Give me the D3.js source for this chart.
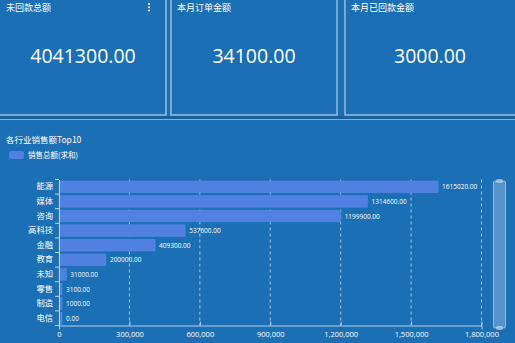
<!DOCTYPE html>
<html><head><meta charset="utf-8">
<script src="https://cdn.jsdelivr.net/npm/d3@7/dist/d3.min.js"></script>
<style>
html,body{margin:0;padding:0;background:#1a6fb5;overflow:hidden;}
svg{display:block;}
</style></head>
<body>
<svg id="c" width="515" height="343"></svg>
<script>
const cardTitles = ["未回款总额", "本月订单金额", "本月已回款金额"];
const cardValues = [4041300, 34100, 3000];
const categories = ["能源","媒体","咨询","高科技","金融","教育","未知","零售","制造","电信"];
const values = [1615020, 1314600, 1199900, 537600, 409300, 200000, 31000, 3100, 1000, 0];
const xTicks = [0, 300000, 600000, 900000, 1200000, 1500000, 1800000];
const chartTitle = "各行业销售额Top10";
const seriesName = "销售总额(求和)";

const W = 515, H = 343;
const bg = "#1a6fb5", barColor = "#5181e0", lineCol = "rgba(220,232,245,0.75)";
const cjk = "'Noto Sans CJK SC','Microsoft YaHei',sans-serif";
const svg = d3.select("#c");
svg.append("rect").attr("width", W).attr("height", H).attr("fill", bg);

// cards
const cards = [{x0: -2, x1: 166}, {x0: 171, x1: 337}, {x0: 345, x1: 517}];
const cg = svg.selectAll("g.card").data(cards).join("g").attr("class", "card");
cg.append("rect").attr("x", d => d.x0).attr("y", -2).attr("width", d => d.x1 - d.x0).attr("height", 117)
  .attr("fill", bg).attr("stroke", lineCol).attr("stroke-width", 1.3);
cg.append("text").attr("x", d => d.x0 + (d.x0 < 0 ? 8 : 6)).attr("y", 11)
  .attr("fill", "#fff").attr("font-family", cjk).attr("font-size", 9)
  .text((d, i) => cardTitles[i]);
cg.append("text").attr("x", d => (Math.max(d.x0, 0) + Math.min(d.x1, W)) / 2).attr("y", 63)
  .attr("text-anchor", "middle").attr("fill", "#fff")
  .attr("font-family", "'Segoe UI','Open Sans','Noto Sans',sans-serif").attr("font-size", 19.5)
  .text((d, i) => d3.format(".2f")(cardValues[i]));
// kebab
svg.append("g").selectAll("circle").data([0, 1, 2]).join("circle")
  .attr("cx", 149).attr("cy", d => 4 + d * 3.3).attr("r", 1).attr("fill", "#fff");

// separator
svg.append("rect").attr("x", 0).attr("y", 116).attr("width", W).attr("height", 3).attr("fill", "#185f9c");
svg.append("line").attr("x1", 0).attr("x2", W).attr("y1", 119.5).attr("y2", 119.5)
  .attr("stroke", "rgba(200,220,240,0.6)").attr("stroke-width", 1);

// chart title & legend
svg.append("text").attr("x", 6).attr("y", 143).attr("fill", "#fff").attr("font-family", cjk)
  .attr("font-size", 8.5).text(chartTitle);
svg.append("rect").attr("x", 9).attr("y", 151).attr("width", 15).attr("height", 8).attr("rx", 2).attr("fill", barColor);
svg.append("text").attr("x", 28).attr("y", 158).attr("fill", "#fff").attr("font-family", cjk)
  .attr("font-size", 7.5).text(seriesName);

// scales
const x = d3.scaleLinear().domain([0, 1800000]).range([59, 481.5]);
const y = d3.scaleBand().domain(categories).range([179.5, 325.5]).paddingInner(0.2).paddingOuter(0.1);

// grid
svg.append("g").selectAll("line").data(xTicks.slice(1)).join("line")
  .attr("x1", d => x(d)).attr("x2", d => x(d)).attr("y1", 179.5).attr("y2", 325.5)
  .attr("stroke", "rgba(255,255,255,0.75)").attr("stroke-dasharray", "3,3").attr("stroke-width", 0.8);

// bars
svg.append("g").selectAll("rect").data(values).join("rect")
  .attr("x", x(0)).attr("y", (d, i) => y(categories[i]))
  .attr("width", d => Math.max(x(d) - x(0), 3)).attr("height", y.bandwidth())
  .attr("fill", barColor).attr("stroke", "#5b8ae6").attr("stroke-width", 0.5);

// value labels
svg.append("g").selectAll("text").data(values).join("text")
  .attr("x", d => x(0) + Math.max(x(d) - x(0), 3) + 4)
  .attr("y", (d, i) => y(categories[i]) + y.bandwidth() / 2 + 2.5)
  .attr("fill", "#fff").attr("font-family", "'Segoe UI','Open Sans',sans-serif").attr("font-size", 6.5)
  .text(d => d3.format(".2f")(d));

// x axis
const xa = svg.append("g").attr("transform", "translate(0,325.5)")
  .call(d3.axisBottom(x).tickValues(xTicks).tickFormat(d3.format(",")).tickSize(4));
xa.select(".domain").attr("stroke", "rgba(220,230,245,0.8)");
xa.selectAll(".tick line").attr("stroke", "rgba(220,230,245,0.8)").attr("y1", -4).attr("y2", 0);
xa.selectAll("text").attr("fill", "#fff").attr("font-family", "'Segoe UI','Open Sans',sans-serif")
  .attr("font-size", 7.5).attr("dy", "0.9em").attr("y", 5);

// y axis
const yBound = d3.scaleLinear().domain([0, categories.length]).range([179.5, 325.5]);
const ya = svg.append("g").attr("transform", "translate(59,0)")
  .call(d3.axisLeft(y).tickSize(0).tickPadding(6));
ya.select(".domain").attr("stroke", "rgba(220,230,245,0.85)");
ya.selectAll("text").attr("fill", "#fff").attr("font-family", cjk).attr("font-size", 8.3);
ya.append("g").selectAll("line").data(d3.range(categories.length + 1)).join("line")
  .attr("x1", -4).attr("x2", 0).attr("y1", d => yBound(d)).attr("y2", d => yBound(d))
  .attr("stroke", "rgba(220,230,245,0.85)");

// scrollbar
svg.append("rect").attr("x", 493.5).attr("y", 181).attr("width", 12).attr("height", 147).attr("rx", 1.5)
  .attr("fill", "rgba(200,215,235,0.35)").attr("stroke", "rgba(220,230,245,0.7)").attr("stroke-width", 0.8);
svg.append("g").selectAll("rect").data([181, 328]).join("rect")
  .attr("x", 496.5).attr("y", d => d - 1.5).attr("width", 6).attr("height", 3).attr("rx", 1)
  .attr("fill", "rgba(200,215,235,0.6)").attr("stroke", "rgba(230,235,245,0.8)").attr("stroke-width", 0.5);
</script>
</body></html>
